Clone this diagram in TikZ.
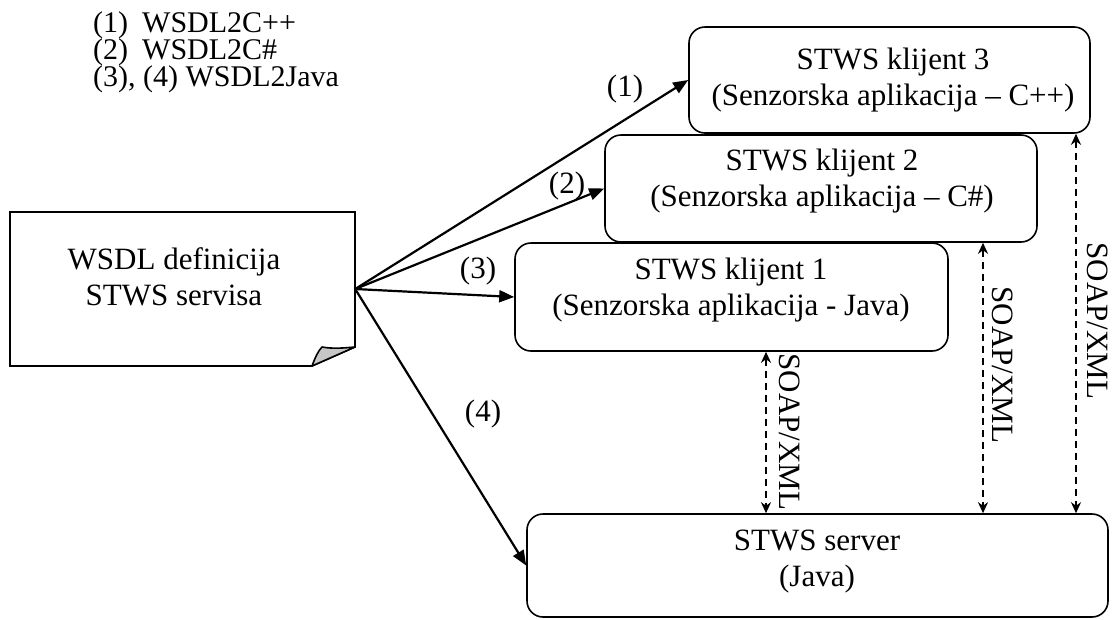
\documentclass[tikz,border=0pt]{standalone}
\usepackage{fontspec}
\setmainfont{Liberation Serif}
\usetikzlibrary{arrows.meta}
\begin{document}
\begin{tikzpicture}[x=1pt,y=-1pt,
  txt/.style={font=\fontsize{31}{36}\selectfont, inner sep=0pt, align=center},
  leg/.style={font=\fontsize{30}{30}\selectfont, inner sep=0pt},
  box/.style={draw, line width=1.6pt, rounded corners=16pt, fill=white, inner sep=0pt},
  flow/.style={line width=2.2pt, -{Triangle[length=15pt,width=12pt]}},
  soap/.style={line width=2pt, dash pattern=on 7pt off 5pt, {Stealth[length=11pt,width=10pt]}-{Stealth[length=11pt,width=10pt]}},
  slabel/.style={font=\fontsize{31}{36}\selectfont, inner sep=0pt, rotate=-90}
]
\useasboundingbox (0,0) rectangle (1113,619);

% legend
\node[leg, anchor=base west] (l1) at (93,32) {\makebox[49pt][l]{(1)}WSDL2C++};
\node[leg, anchor=base west] (l2) at (93,59) {\makebox[49pt][l]{(2)}WSDL2C\#};
\node[leg, anchor=base west] (l3) at (93,86) {(3), (4) WSDL2Java};

% document
\node[minimum width=345pt, minimum height=154pt, inner sep=0pt] (doc) at (182.5,289) {};
\draw[line width=1.6pt] (10,212) -- (355,212) -- (355,347) -- (312,366) -- (10,366) -- cycle;
\draw[line width=1.6pt, fill=black!22, line join=round] (312,366) .. controls (315,358) and (318,351) .. (322,347)
  .. controls (333,349) and (344,348) .. (355,347) -- cycle;
\node[txt] (doct) at (174,277) {WSDL definicija\\STWS servisa};

% clients
\node[box, minimum width=401pt, minimum height=106pt] (c3) at (889.5,80) {};
\node[txt] (c3t) at (893,80) {STWS klijent 3\\(Senzorska aplikacija – C++)};
\node[box, minimum width=432pt, minimum height=107pt] (c2) at (821,188.5) {};
\node[txt] (c2t) at (822,181) {STWS klijent 2\\(Senzorska aplikacija – C\#)};
\node[box, minimum width=433pt, minimum height=108pt] (c1) at (731.5,297) {};
\node[txt] (c1t) at (731,290) {STWS klijent 1\\(Senzorska aplikacija - Java)};

% server
\node[box, minimum width=581pt, minimum height=103pt] (srv) at (817.5,565.5) {};
\node[txt] (srvt) at (817,562) {STWS server\\(Java)};

% flow arrows
\draw[flow] (doc.east) -- (c3.west);
\draw[flow] (doc.east) -- (c2.west);
\draw[flow] (doc.east) -- (c1.west);
\draw[flow] (doc.east) -- (srv.west);
\node[txt] (a1) at (625,89) {(1)};
\node[txt] (a2) at (567,186) {(2)};
\node[txt] (a3) at (478,271) {(3)};
\node[txt] (a4) at (483,414) {(4)};

% SOAP/XML links
\coordinate (x1) at (766,0);
\coordinate (x2) at (983,0);
\coordinate (x3) at (1076,0);
\draw[soap] (c1.south -| x1) -- (srv.north -| x1);
\draw[soap] (c2.south -| x2) -- (srv.north -| x2);
\draw[soap] (c3.south -| x3) -- (srv.north -| x3);
\node[slabel] (s1) at (790,432) {SOAP/XML};
\node[slabel] (s2) at (1003,365) {SOAP/XML};
\node[slabel] (s3) at (1098,321) {SOAP/XML};
\end{tikzpicture}
\end{document}
